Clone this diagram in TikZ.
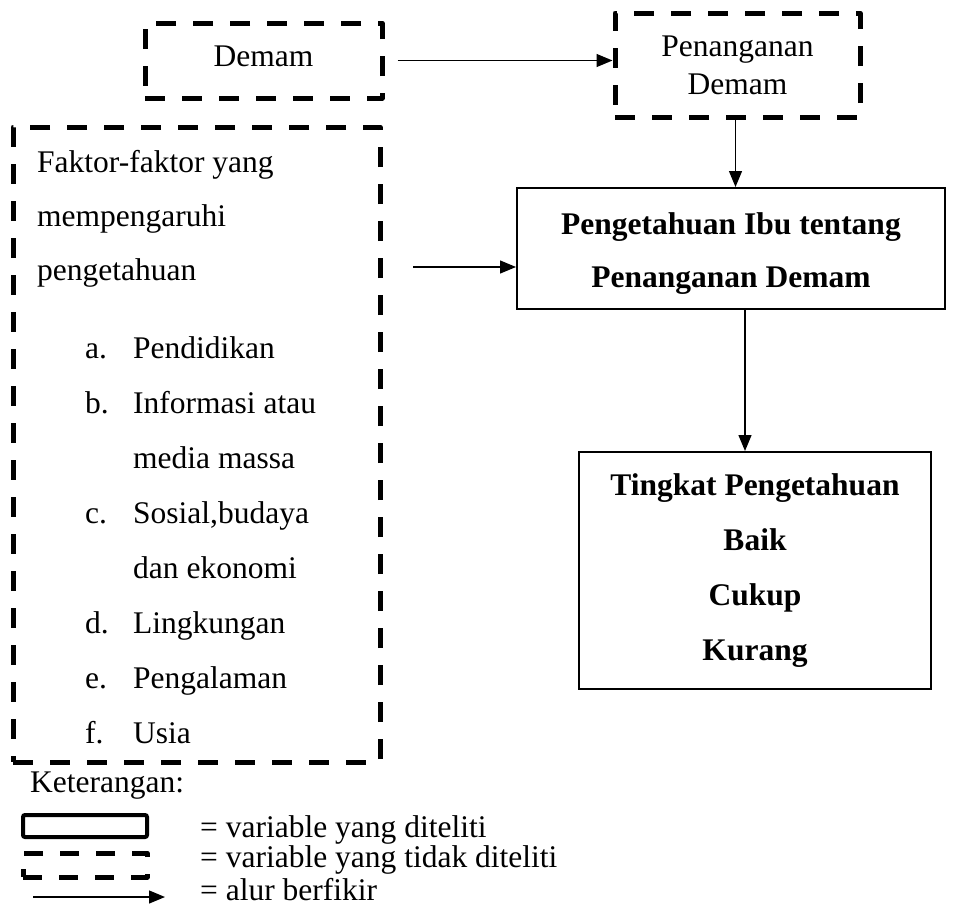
\documentclass[tikz,border=0pt]{standalone}
\usepackage{fontspec}
\setmainfont{Liberation Serif}
\usepackage{tikz}
\usetikzlibrary{arrows.meta,positioning}

\begin{document}
\begin{tikzpicture}[x=1pt, y=-1pt,
	txt/.style={font=\fontsize{31.5}{38}\selectfont, inner sep=0, anchor=base west},
	dashbox/.style={draw, line width=5pt, line join=round, dash pattern=on 20pt off 17pt, inner sep=0, align=center, font=\fontsize{31.5}{38}\selectfont},
	solidbox/.style={draw, line width=2pt, inner sep=0, align=center, font=\fontsize{31.5}{55}\selectfont\bfseries},
	boldtxt/.style={inner sep=0, align=center, font=\fontsize{31.5}{53}\selectfont\bfseries},
	arr/.style={-{Triangle[length=16pt, width=13pt]}, line width=1.3pt}
]
\useasboundingbox (0,0) rectangle (953,910);

\node[dashbox, minimum width=237pt, minimum height=75pt, text depth=8pt] (demam) at (263.5,60.5) {Demam};
\node[dashbox, minimum width=245pt, minimum height=104pt] (pen) at (737.5,65) {Penanganan\\Demam};
\node[dashbox, minimum width=367pt, minimum height=635pt] (faktor) at (196.5,444.5) {};
\node[solidbox, minimum width=428pt, minimum height=121pt] (peng) at (731,248.5) {};
\node[boldtxt] (pengtxt) at ([yshift=-5pt]peng.center) {Pengetahuan Ibu tentang\\Penanganan Demam};
\node[solidbox, minimum width=352pt, minimum height=237pt] (tingkat) at (755,570.5) {Tingkat Pengetahuan\\Baik\\Cukup\\Kurang};

% isi faktor
\node[txt] (f1) at (37,172) {Faktor-faktor yang};
\node[txt] (f2) at (37,226) {mempengaruhi};
\node[txt] (f3) at (37,280) {pengetahuan};
\node[txt] (la) at (85,358) {a.};
\node[txt] (ta) at (133,358) {Pendidikan};
\node[txt] (lb) at (85,413) {b.};
\node[txt] (tb) at (133,413) {Informasi atau};
\node[txt] (tb2) at (133,468) {media massa};
\node[txt] (lc) at (85,523) {c.};
\node[txt] (tc) at (133,523) {Sosial,budaya};
\node[txt] (tc2) at (133,578) {dan ekonomi};
\node[txt] (ld) at (85,633) {d.};
\node[txt] (td) at (133,633) {Lingkungan};
\node[txt] (le) at (85,688) {e.};
\node[txt] (te) at (133,688) {Pengalaman};
\node[txt] (lf) at (85,743) {f.};
\node[txt] (tf) at (133,743) {Usia};

% arah
\draw[arr] ([xshift=13pt]demam.east) -- (demam.east -| pen.west);
\draw[arr] ([xshift=-2pt]pen.south) -- ([xshift=-2pt]pen.south |- peng.north);
\coordinate (fk) at (413,267);
\draw[arr] (fk) -- (fk -| peng.west);
\draw[arr] ([xshift=-10pt]tingkat.north |- peng.south) -- ([xshift=-10pt]tingkat.north);

% keterangan
\node[txt] (ket) at (30,792) {Keterangan:};
\node[draw, line width=4pt, rounded corners=2pt, minimum width=124pt, minimum height=22pt, inner sep=0] (lgsolid) at (85,826) {};
\node[draw, line width=5pt, line join=round, dash pattern=on 19pt off 17pt, minimum width=124pt, minimum height=24pt, inner sep=0] (lgdash) at (85,865) {};
\coordinate (lga) at (33,897);
\coordinate (lgb) at (165,897);
\draw[arr] (lga) -- (lgb);
\node[txt] (k1) at (200,837) {= variable yang diteliti};
\node[txt] (k2) at (200,867) {= variable yang tidak diteliti};
\node[txt] (k3) at (200,900) {= alur berfikir};
\end{tikzpicture}
\end{document}
